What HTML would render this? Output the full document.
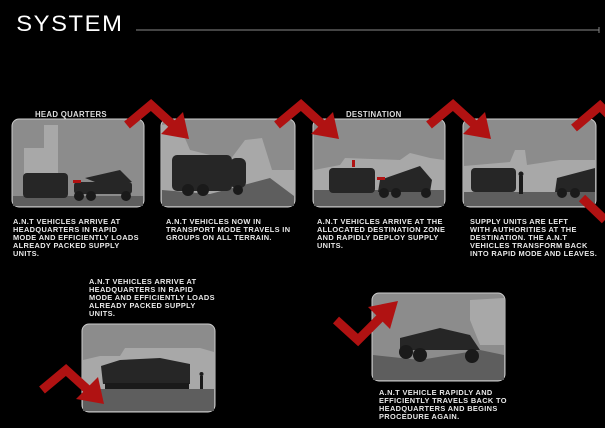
<!DOCTYPE html>
<html><head><meta charset="utf-8"><style>
body{margin:0;background:#000;width:605px;height:428px;overflow:hidden;position:relative;font-family:"Liberation Sans",sans-serif}
.t{position:absolute;color:#e8e8e8;font-size:7.4px;line-height:8px;font-weight:bold;letter-spacing:0.35px;white-space:nowrap}
</style></head><body>
<svg width="605" height="428" style="position:absolute;left:0;top:0">
<defs>
<g id="arr"><path d="M0,0 L24,-20 L46,0" fill="none" stroke="#b01212" stroke-width="9" stroke-linejoin="miter"/><polygon points="34,9 56,-13 62,14" fill="#b01212"/></g>
</defs>
<text x="15" y="31" fill="#fff" font-size="22" font-family="Liberation Sans" letter-spacing="1.5" transform="scale(1.08,1)">SYSTEM</text>
<line x1="136" y1="30" x2="599" y2="30" stroke="#888" stroke-width="1"/>
<line x1="599" y1="27" x2="599" y2="33" stroke="#888"/>
<text x="35" y="117" fill="#ddd" font-size="7.8" font-weight="bold" letter-spacing="0.3">HEAD QUARTERS</text>
<text x="346" y="117" fill="#ddd" font-size="7.8" font-weight="bold" letter-spacing="0.3">DESTINATION</text>
<!-- panel 1 -->
<g>
<rect x="12" y="119" width="132" height="88" rx="7" fill="#8c8c8c" stroke="#ccc"/>
<rect x="24" y="148" width="20" height="50" fill="#a8a8a8"/><rect x="44" y="125" width="14" height="70" fill="#a8a8a8"/>
<rect x="13" y="196" width="130" height="10" fill="#5e5e5e"/>
<rect x="23" y="173" width="45" height="25" rx="4" fill="#262626"/>
<rect x="74" y="182" width="58" height="12" rx="3" fill="#262626"/>
<circle cx="79" cy="196" r="5" fill="#1a1a1a"/><circle cx="91" cy="196" r="5" fill="#1a1a1a"/><circle cx="126" cy="196" r="5" fill="#1a1a1a"/>
<path d="M85,178 L120,170 L132,182 L100,184Z" fill="#262626"/>
<rect x="73" y="180" width="8" height="3" fill="#b01212"/>
</g>
<!-- panel 2 -->
<g>
<rect x="161" y="119" width="134" height="88" rx="7" fill="#8c8c8c" stroke="#ccc"/>
<path d="M162,125 L178,122 L190,150 L230,160 L245,140 L262,138 L272,170 L294,170 L294,206 L162,206Z" fill="#a8a8a8"/>
<path d="M162,190 L210,194 L270,178 L294,196 L294,206 L162,206Z" fill="#5e5e5e"/>
<rect x="172" y="155" width="60" height="36" rx="5" fill="#262626"/>
<rect x="230" y="158" width="16" height="30" rx="6" fill="#262626"/>
<circle cx="188" cy="190" r="6" fill="#1a1a1a"/><circle cx="203" cy="190" r="6" fill="#1a1a1a"/><circle cx="238" cy="190" r="5" fill="#1a1a1a"/>
</g>
<!-- panel 3 -->
<g>
<rect x="313" y="119" width="132" height="88" rx="7" fill="#8c8c8c" stroke="#ccc"/>
<path d="M314,170 L340,165 L345,158 L400,160 L410,153 L430,158 L444,160 L444,206 L314,206Z" fill="#a8a8a8"/>
<rect x="314" y="190" width="130" height="16" fill="#5e5e5e"/>
<rect x="329" y="168" width="46" height="25" rx="4" fill="#262626"/>
<path d="M380,180 L420,166 L432,180 L430,192 L378,192Z" fill="#262626"/>
<circle cx="384" cy="193" r="5" fill="#1a1a1a"/><circle cx="396" cy="193" r="5" fill="#1a1a1a"/><circle cx="426" cy="193" r="5" fill="#1a1a1a"/>
<rect x="352" y="160" width="3" height="7" fill="#b01212"/><rect x="377" y="177" width="8" height="3" fill="#b01212"/>
</g>
<!-- panel 4 -->
<g>
<rect x="463" y="119" width="133" height="88" rx="7" fill="#8c8c8c" stroke="#ccc"/>
<path d="M464,166 L510,162 L515,150 L525,150 L527,165 L560,160 L595,160 L595,206 L464,206Z" fill="#a8a8a8"/>
<rect x="464" y="192" width="131" height="14" fill="#5e5e5e"/>
<rect x="471" y="168" width="45" height="24" rx="4" fill="#262626"/>
<rect x="519" y="176" width="4" height="18" fill="#1a1a1a"/><circle cx="521" cy="174" r="2.5" fill="#1a1a1a"/>
<path d="M557,178 L595,168 L595,192 L555,192Z" fill="#262626"/>
<circle cx="562" cy="193" r="5" fill="#1a1a1a"/><circle cx="575" cy="193" r="5" fill="#1a1a1a"/>
</g>
<!-- panel 5 -->
<g>
<rect x="82" y="324" width="133" height="88" rx="7" fill="#8c8c8c" stroke="#ccc"/>
<path d="M83,360 L100,356 L120,356 L125,348 L200,348 L214,352 L214,390 L83,390Z" fill="#a8a8a8"/>
<rect x="83" y="389" width="131" height="22" fill="#5e5e5e"/>
<path d="M101,366 L120,360 L160,358 L190,364 L190,384 L103,384Z" fill="#262626"/>
<rect x="105" y="383" width="84" height="6" fill="#1a1a1a"/>
<rect x="200" y="376" width="3" height="13" fill="#1a1a1a"/><circle cx="201.5" cy="374" r="2" fill="#1a1a1a"/>
</g>
<!-- panel 6 -->
<g>
<rect x="372" y="293" width="133" height="88" rx="7" fill="#8c8c8c" stroke="#ccc"/>
<path d="M470,300 L504,298 L504,345 L480,345 L470,320Z" fill="#a8a8a8"/>
<path d="M373,355 L420,360 L480,350 L504,355 L504,380 L373,380Z" fill="#5e5e5e"/>
<path d="M400,338 L440,328 L470,335 L480,350 L400,350Z" fill="#262626"/>
<circle cx="406" cy="352" r="7" fill="#1a1a1a"/><circle cx="420" cy="355" r="7" fill="#1a1a1a"/><circle cx="472" cy="356" r="7" fill="#1a1a1a"/>
</g>
<!-- arrows -->
<use href="#arr" x="127" y="125"/>
<use href="#arr" x="277" y="125"/>
<use href="#arr" x="429" y="125"/>
<path d="M574,128 L600,106 L612,118" fill="none" stroke="#b01212" stroke-width="9"/>
<path d="M582,198 L605,220" stroke="#b01212" stroke-width="9"/>
<use href="#arr" x="42" y="390"/>
<path d="M336,320 L358,340 L380,318" fill="none" stroke="#b01212" stroke-width="9"/>
<polygon points="368,307 390,329 398,301" fill="#b01212"/>
</svg>
<div class="t" style="left:13px;top:218px">A.N.T VEHICLES ARRIVE AT<br>HEADQUARTERS IN RAPID<br>MODE AND EFFICIENTLY LOADS<br>ALREADY PACKED SUPPLY<br>UNITS.</div>
<div class="t" style="left:166px;top:218px">A.N.T VEHICLES NOW IN<br>TRANSPORT MODE TRAVELS IN<br>GROUPS ON ALL TERRAIN.</div>
<div class="t" style="left:317px;top:218px">A.N.T VEHICLES ARRIVE AT THE<br>ALLOCATED DESTINATION ZONE<br>AND RAPIDLY DEPLOY SUPPLY<br>UNITS.</div>
<div class="t" style="left:470px;top:218px">SUPPLY UNITS ARE LEFT<br>WITH AUTHORITIES AT THE<br>DESTINATION. THE A.N.T<br>VEHICLES TRANSFORM BACK<br>INTO RAPID MODE AND LEAVES.</div>
<div class="t" style="left:89px;top:278px">A.N.T VEHICLES ARRIVE AT<br>HEADQUARTERS IN RAPID<br>MODE AND EFFICIENTLY LOADS<br>ALREADY PACKED SUPPLY<br>UNITS.</div>
<div class="t" style="left:379px;top:389px">A.N.T VEHICLE RAPIDLY AND<br>EFFICIENTLY TRAVELS BACK TO<br>HEADQUARTERS AND BEGINS<br>PROCEDURE AGAIN.</div>
</body></html>
